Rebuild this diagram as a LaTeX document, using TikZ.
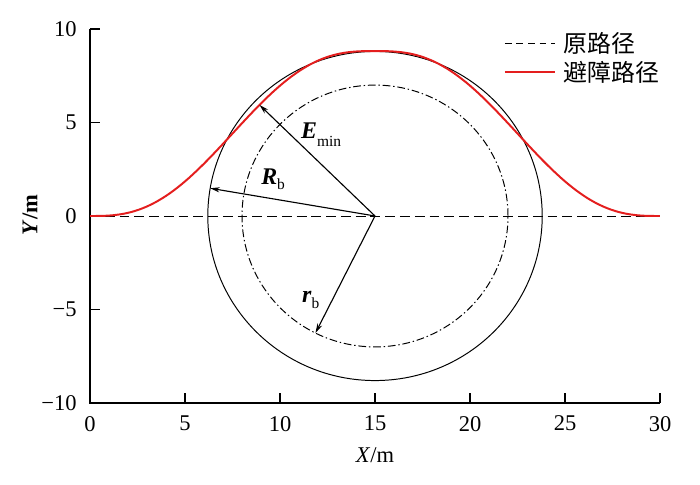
\documentclass[tikz,border=0pt]{standalone}
\usepackage{fontspec}
\setmainfont{Liberation Serif}
\newfontfamily\cjkfont{Noto Sans CJK SC}
\usepackage{tikz}
\usetikzlibrary{arrows.meta, calc, positioning}
\definecolor{pathred}{RGB}{228,30,30}
\tikzstyle{arrow} = [line width=0.8pt,-{Stealth[length=2.4mm,width=1.3mm]}]
\tikzstyle{axis} = [line width=1pt]
\tikzstyle{ticklbl} = [inner sep=0pt, font=\fontsize{16}{18}\selectfont]
\tikzstyle{origpath} = [line width=0.7pt, dash pattern=on 7pt off 3.5pt]
\tikzstyle{newpath} = [line width=1.4pt, pathred]
\tikzstyle{boundary} = [line width=0.7pt]
\tikzstyle{safezone} = [line width=0.7pt, dash pattern=on 5.5pt off 2pt on 1pt off 2pt]
\tikzstyle{symbol} = [inner sep=0pt, anchor=base west, font=\fontsize{17}{19}\selectfont]
\newcommand\symlbl[3]{\textbf{\textit{#1}}\raisebox{-#3}{\fontsize{11}{12}\selectfont #2}}

\begin{document}
\begin{tikzpicture}[x=0.475cm, y=0.4675cm,
  declare function={avoidU(\t)=1-abs(\t-15)/15;
                    avoidY(\t)=8.82*(6*avoidU(\t)^5-15*avoidU(\t)^4+10*avoidU(\t)^3);}]
\useasboundingbox (-4.737,-14.385) rectangle (32.105,11.551);
%----------------------------------------------------------------------------
% Axes and ticks
\draw [axis] (0,10) -- (0,-10) -- (30,-10);
\foreach \x in {0,5,...,30} {
  \draw [axis] (\x,-10) -- ++(0,0.25cm);
  \node [ticklbl, anchor=north] (xt\x) at ([yshift=-0.32cm]\x,-10) {\x};
}
\foreach \y/\t in {-10/−10,-5/−5,0/0,5/5,10/10} {
  \draw [axis] (0,\y) -- ++(0.25cm,0);
  \node [ticklbl, anchor=east] (yt\t) at ([xshift=-0.33cm]0,\y) {\t};
}
\node [ticklbl] (xlabel) at (15,-12.78) {\textit{X}/m};
\node [ticklbl, rotate=90] (ylabel) at (-3.16,0.05) {\textbf{\textit{Y}/m}};

%----------------------------------------------------------------------------
% Obstacle circles and paths
\coordinate (centre) at (15,0);
\draw [boundary] (centre) ellipse [x radius=8.8, y radius=8.8];
\draw [safezone] (centre) ellipse [x radius=7, y radius=7];
\draw [origpath] (0,0) -- (30,0);
\draw [newpath] plot [domain=0:30, samples=151] (\x, {avoidY(\x)});

%----------------------------------------------------------------------------
% Radius arrows
\coordinate (emin) at (8.92,{avoidY(8.92)});
\coordinate (rbig) at ($(centre)+(170.3:8.8)$);
\coordinate (rsmall) at ($(centre)+(243.4:7)$);
\draw [arrow] (centre) -- (emin);
\draw [arrow] (centre) -- (rbig);
\draw [arrow] (centre) -- (rsmall);
\node [symbol] (eminlbl) at (11.1,4.17) {\symlbl{E}{min}{6pt}};
\node [symbol] (rbiglbl) at (9.0,1.66) {\symlbl{R}{b}{3pt}};
\node [symbol] (rsmalllbl) at (11.15,-4.65) {\symlbl{r}{b}{4pt}};

%----------------------------------------------------------------------------
% Legend
\node [inner sep=0pt, anchor=west, font=\fontsize{17}{19}\selectfont\cjkfont] (legorig) at (24.9,9.25) {原路径};
\node [inner sep=0pt, anchor=west, font=\fontsize{17}{19}\selectfont\cjkfont] (legnew) at (24.9,7.7) {避障路径};
\coordinate (legorigstart) at (21.84,9.25);
\coordinate (legnewstart) at (21.84,7.7);
\draw [line width=0.7pt, dash pattern=on 4.7pt off 3.5pt] (legorigstart) -- ([xshift=-0.2cm]legorig.west);
\draw [newpath] (legnewstart) -- ([xshift=-0.2cm]legnew.west);

\end{tikzpicture}
\end{document}
